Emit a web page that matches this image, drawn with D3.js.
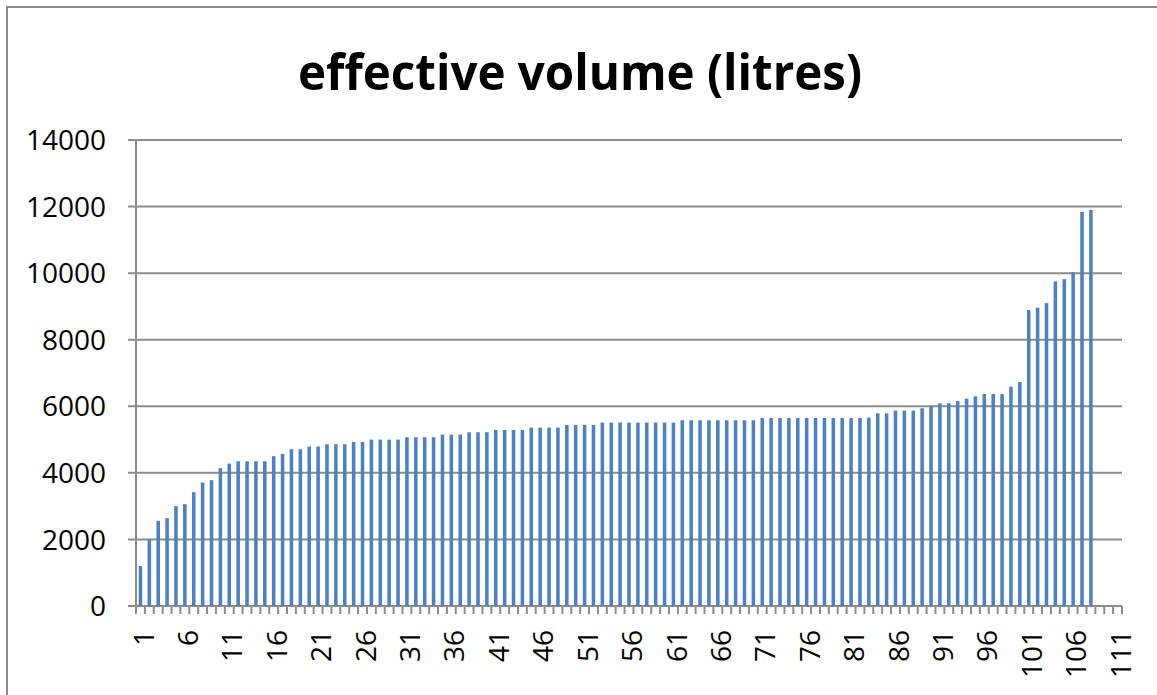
<!DOCTYPE html>
<html>
<head>
<meta charset="utf-8">
<script src="https://cdn.jsdelivr.net/npm/d3@7"></script>
<style>
  body { margin: 0; background: #fff; }
  text { font-family: "Open Sans", "Noto Sans", sans-serif; fill: #000; }
</style>
</head>
<body>
<div id="chart"></div>
<script>
// chart size
var w = 1157, h = 695;
var margin = {top: 140, right: 35, bottom: 89, left: 136},
    width = w - margin.left - margin.right,
    height = h - margin.top - margin.bottom;

// data: sample number 1..111, values for the first 108
var categories = d3.range(1, 112);
var volumes = [
  1200, 2000, 2560, 2640, 3000, 3060, 3420, 3710, 3780, 4140,
  4280, 4350, 4350, 4350, 4350, 4500, 4570, 4710, 4710, 4790,
  4790, 4860, 4860, 4860, 4930, 4930, 5000, 5000, 5000, 5000,
  5070, 5070, 5070, 5070, 5150, 5150, 5150, 5220, 5220, 5220,
  5290, 5290, 5290, 5290, 5360, 5360, 5360, 5360, 5440, 5440,
  5440, 5440, 5510, 5510, 5510, 5510, 5510, 5510, 5510, 5510,
  5510, 5580, 5580, 5580, 5580, 5580, 5580, 5580, 5580, 5580,
  5650, 5650, 5650, 5650, 5650, 5650, 5650, 5650, 5650, 5650,
  5650, 5650, 5660, 5790, 5790, 5870, 5870, 5870, 5940, 6010,
  6090, 6090, 6160, 6230, 6300, 6370, 6370, 6370, 6590, 6730,
  8890, 8960, 9100, 9750, 9820, 10030, 11840, 11900
];
var yTicks = [0, 2000, 4000, 6000, 8000, 10000, 12000, 14000];
var xLabels = d3.range(1, 112, 5);

var svg = d3.select("#chart")
  .append("svg")
  .attr("width", w)
  .attr("height", h);

// outer chart border
svg.append("rect")
  .attr("x", 7).attr("y", 7)
  .attr("width", w + 20).attr("height", h + 20)
  .attr("fill", "none")
  .attr("stroke", "#8c8c8c")
  .attr("stroke-width", 2);

// title
svg.append("text")
  .attr("x", 580)
  .attr("y", 90)
  .attr("text-anchor", "middle")
  .attr("font-size", 50)
  .attr("font-weight", "bold")
  .attr("textLength", 564)
  .attr("lengthAdjust", "spacingAndGlyphs")
  .text("effective volume (litres)");

var x = d3.scaleBand()
  .domain(categories)
  .range([margin.left, margin.left + width])
  .paddingInner(0.6)
  .paddingOuter(0.3);

var y = d3.scaleLinear()
  .domain([0, 14000])
  .range([margin.top + height, margin.top]);

// gridlines
svg.append("g")
  .selectAll("line")
  .data(yTicks)
  .enter()
  .append("line")
    .attr("x1", margin.left - 8)
    .attr("x2", margin.left + width)
    .attr("y1", function(d) { return y(d); })
    .attr("y2", function(d) { return y(d); })
    .attr("stroke", "#8c8c8c")
    .attr("stroke-width", 2);

// y labels
svg.append("g")
  .selectAll("text")
  .data(yTicks)
  .enter()
  .append("text")
    .attr("x", 106)
    .attr("y", function(d) { return y(d); })
    .attr("dy", "0.36em")
    .attr("text-anchor", "end")
    .attr("font-size", 28)
    .text(function(d) { return d; });

// bars
svg.selectAll("mybar")
  .data(volumes)
  .enter()
  .append("rect")
    .attr("x", function(d, i) { return x(categories[i]); })
    .attr("y", function(d) { return y(d); })
    .attr("width", x.bandwidth())
    .attr("height", function(d) { return y(0) - y(d); })
    .attr("fill", "#4f81bd");

// y axis line
svg.append("line")
  .attr("x1", margin.left).attr("x2", margin.left)
  .attr("y1", y(14000)).attr("y2", y(0) + 8)
  .attr("stroke", "#8c8c8c")
  .attr("stroke-width", 2);

// x tick marks at category boundaries
var gap = (x.step() - x.bandwidth()) / 2;
var bounds = categories.map(function(c) { return x(c) - gap; });
bounds.push(x(categories[categories.length - 1]) + x.bandwidth() + gap);
svg.append("g")
  .selectAll("line")
  .data(bounds)
  .enter()
  .append("line")
    .attr("x1", function(d) { return d; })
    .attr("x2", function(d) { return d; })
    .attr("y1", y(0))
    .attr("y2", y(0) + 8)
    .attr("stroke", "#8c8c8c")
    .attr("stroke-width", 2);

// x labels, rotated
svg.append("g")
  .selectAll("text")
  .data(xLabels)
  .enter()
  .append("text")
    .attr("transform", function(d) {
      return "translate(" + (x(d) + x.bandwidth() / 2 + 3) + "," + 630 + ")rotate(-90)";
    })
    .attr("dy", "0.36em")
    .attr("text-anchor", "end")
    .attr("font-size", 28)
    .text(function(d) { return d; });
</script>
</body>
</html>
